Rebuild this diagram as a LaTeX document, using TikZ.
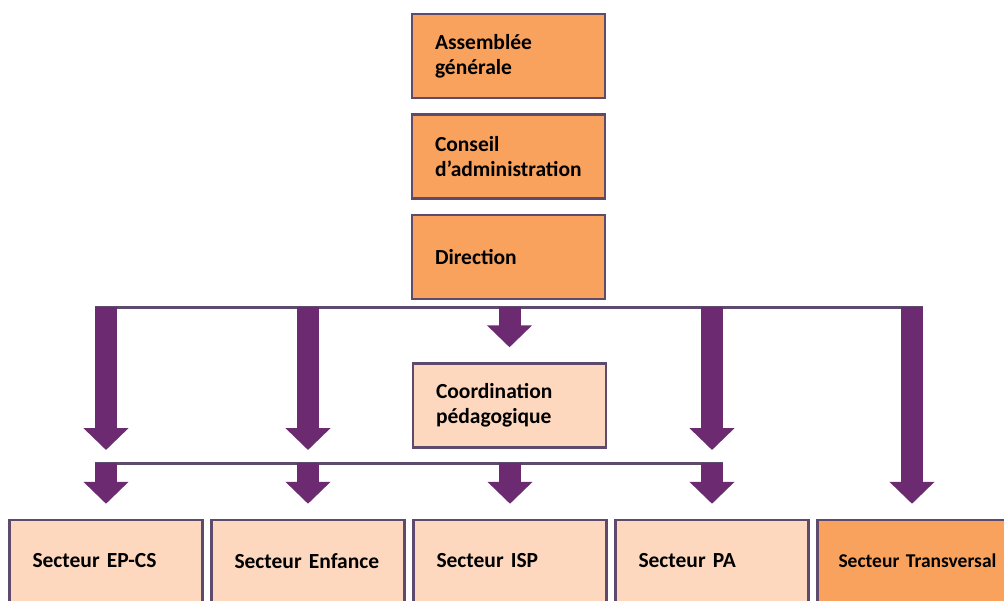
\documentclass[tikz,border=0pt]{standalone}
\usepackage{fontspec}
\setmainfont{Carlito}
\usetikzlibrary{positioning,arrows.meta,calc}

\definecolor{orgdark}{HTML}{F9A25E}
\definecolor{orglight}{HTML}{FDD8BE}
\definecolor{edgegray}{HTML}{5E4A6C}
\definecolor{arrowpurple}{HTML}{6C2B70}

\begin{document}
\begin{tikzpicture}[x=1pt,y=-1pt,
  box/.style={rectangle, draw=edgegray, line width=2.5pt, text width=147pt,
    inner xsep=23pt, inner ysep=0pt, minimum height=84pt, align=left,
    font=\bfseries\fontsize{21.5}{25}\selectfont},
  dark/.style={box, fill=orgdark},
  light/.style={box, fill=orglight},
  bar/.style={draw=edgegray, line width=3pt},
  bigarrow/.style={draw=arrowpurple, line width=22pt,
    -{Triangle[width=44pt,length=22pt]}}]
  \useasboundingbox (0,0) rectangle (1004,600);
  % direction
  \node[dark] (ag) at (508.5,56) {Assemblée\\générale};
  \node[dark, below=14pt of ag] (ca) {Conseil\\\mbox{d'administration}};
  \node[dark, below=14pt of ca] (dir) {Direction};
  \node[light] (coord) at (509.5,405.5) {Coordination\\pédagogique};
  % secteurs
  \node[light, minimum height=82pt] (ep) at (106,561) {Secteur EP-CS};
  \node[light, minimum height=82pt, right=6.5pt of ep] (enf) {Secteur Enfance};
  \node[light, minimum height=82pt, right=6.5pt of enf] (isp) {Secteur ISP};
  \node[light, minimum height=82pt, right=6.5pt of isp] (pa) {Secteur PA};
  \node[dark, minimum height=82pt, inner xsep=21pt, right=6.5pt of pa,
    font=\bfseries\fontsize{19.5}{25}\selectfont] (trans) {\mbox{Secteur Transversal}};
  % bars
  \coordinate (bartop) at (0,307);
  \coordinate (barmid) at (0,463);
  \draw[bar] ([xshift=-11pt]ep |- bartop) -- ([xshift=11pt]trans |- bartop);
  \draw[bar] ([xshift=-11pt]ep |- barmid) -- ([xshift=11pt]pa |- barmid);
  % arrows
  \foreach \n in {ep,enf,pa}
    \draw[bigarrow] (\n |- bartop) -- ([yshift=13pt]\n |- barmid);
  \draw[bigarrow] (coord |- bartop) -- ([yshift=15pt]coord.north);
  \draw[bigarrow] (trans |- bartop) -- ([yshift=15pt]trans.north);
  \foreach \n in {ep,enf,isp,pa}
    \draw[bigarrow] (\n |- barmid) -- ([yshift=15pt]\n.north);
\end{tikzpicture}
\end{document}
